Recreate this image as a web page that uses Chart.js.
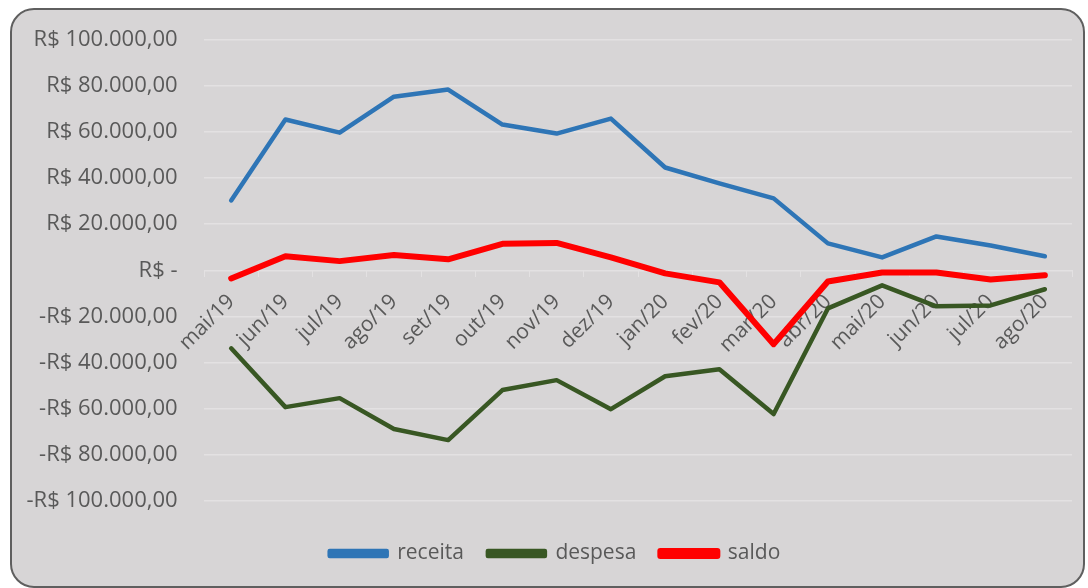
<!DOCTYPE html>
<html>
<head>
<meta charset="utf-8">
<script src="https://cdn.jsdelivr.net/npm/chart.js@4.4.1/dist/chart.umd.min.js"></script>
<style>
  html, body { margin: 0; padding: 0; background: #ffffff; }
  .frame {
    position: absolute; left: 10px; top: 8px; width: 1071px; height: 576px;
    border: 2px solid #5f5f5f; border-radius: 24px; background: #d7d5d6;
  }
  .wrap { position: absolute; left: 0; top: 0; width: 1088px; height: 588px; }
</style>
</head>
<body>
<div class="frame"></div>
<div class="wrap"><canvas id="chart" width="1088" height="588"></canvas></div>
<script>
const months = ['mai/19', 'jun/19', 'jul/19', 'ago/19', 'set/19', 'out/19', 'nov/19', 'dez/19',
  'jan/20', 'fev/20', 'mar/20', 'abr/20', 'mai/20', 'jun/20', 'jul/20', 'ago/20'];
const receita = [30300, 65400, 59700, 75300, 78400, 63200, 59300, 65800,
  44600, 37700, 31200, 11700, 5600, 14700, 10800, 6100];
const despesa = [-33800, -59300, -55400, -68800, -73600, -51900, -47600, -60200,
  -45900, -42900, -62300, -16500, -6500, -15600, -15200, -8200];
const saldo = [-3500, 6100, 4000, 6700, 4800, 11500, 11900, 5600,
  -1300, -5200, -32000, -4800, -900, -900, -4000, -2100];

const textColor = '#595959';
const gridColor = '#e3e1e2';

function brl(v) {
  if (v === 0) return 'R$ -';
  const s = Math.abs(v).toFixed(2).split('.');
  const inteiro = s[0].replace(/\B(?=(\d{3})+(?!\d))/g, '.');
  return (v < 0 ? '-' : '') + 'R$ ' + inteiro + ',' + s[1];
}

function serie(label, data, color, width) {
  return {
    label: label,
    data: data,
    borderColor: color,
    backgroundColor: color,
    borderWidth: width,
    pointRadius: 0,
    tension: 0,
    borderJoinStyle: 'round',
    borderCapStyle: 'round'
  };
}

// legend sits a bit right of centre in the original
const legendShift = {
  id: 'legendShift',
  afterLayout(chart) {
    if (chart.legend) chart.legend.left = 38;
  }
};

const ctx = document.getElementById('chart').getContext('2d');
new Chart(ctx, {
  type: 'line',
  data: {
    labels: months,
    datasets: [
      serie('receita', receita, '#2e75b6', 4.5),
      serie('despesa', despesa, '#385723', 4.5),
      serie('saldo', saldo, '#ff0000', 6)
    ]
  },
  plugins: [legendShift],
  options: {
    responsive: false,
    animation: false,
    layout: { padding: { top: 28, right: 16, bottom: 14, left: 0 } },
    plugins: {
      tooltip: { enabled: false },
      legend: {
        position: 'bottom',
        title: { display: true, text: '', font: { size: 15 }, padding: 0 },
        labels: {
          color: textColor,
          font: { family: 'Open Sans', size: 21 },
          boxWidth: 57,
          boxHeight: 5,
          padding: 24
        }
      }
    },
    scales: {
      x: {
        position: { y: 0 },
        offset: true,
        grid: { offset: true, drawOnChartArea: false, tickLength: 6, color: gridColor },
        border: { display: true, color: gridColor },
        ticks: {
          color: textColor,
          font: { family: 'Open Sans', size: 21 },
          minRotation: 45,
          maxRotation: 45,
          autoSkip: false,
          padding: 13
        }
      },
      y: {
        min: -100000,
        max: 100000,
        grid: { color: gridColor, drawTicks: false, lineWidth: 1.5 },
        border: { display: false },
        ticks: {
          stepSize: 20000,
          color: textColor,
          font: { family: 'Open Sans', size: 22 },
          padding: 26.5,
          callback: v => brl(v)
        }
      }
    }
  }
});
</script>
</body>
</html>
